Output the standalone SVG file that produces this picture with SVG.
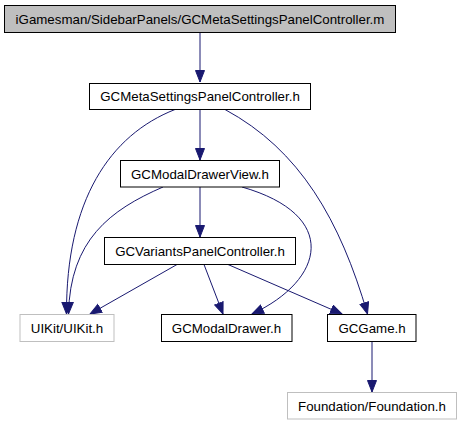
<svg xmlns="http://www.w3.org/2000/svg" width="461" height="427" viewBox="0 0 461 427">
<style>
.n rect{fill:#fff;stroke:#000;stroke-width:1}
.n.root rect{fill:#bfbfbf}
.n.ext rect{stroke:#bfbfbf}
.n text{font-family:"Liberation Sans",Arial,sans-serif;font-size:13.3px;text-anchor:middle;fill:#000}
.e path{fill:none;stroke:#191970;stroke-width:1}
</style>
<defs>
<marker id="ah" markerUnits="userSpaceOnUse" markerWidth="14" markerHeight="11" refX="12" refY="5" orient="auto">
<path d="M0.5,0.5 L12,5 L0.5,9.5 Z" fill="#191970" stroke="#191970" stroke-width="1"/>
</marker>
</defs>
<g id="edges" class="e">
<path d="M200,32 L200,82" marker-end="url(#ah)"/>
<path d="M200,109.5 L200,160" marker-end="url(#ah)"/>
<path d="M200,187 L200,237" marker-end="url(#ah)"/>
<path d="M175,109.5 C110,135 66,200 66.5,314" marker-end="url(#ah)"/>
<path d="M163,187 C110,210 70,240 68.5,314" marker-end="url(#ah)"/>
<path d="M225,109.5 C300,150 340,220 367.5,314" marker-end="url(#ah)"/>
<path d="M242,187 C340,215 325,280 252,314" marker-end="url(#ah)"/>
<path d="M177,264.5 L90,314" marker-end="url(#ah)"/>
<path d="M204,264.5 L223,314" marker-end="url(#ah)"/>
<path d="M228,264.5 L342,314" marker-end="url(#ah)"/>
<path d="M372,341.5 L372,392" marker-end="url(#ah)"/>
</g>
<g id="root" class="n root"><rect x="4.5" y="5.5" width="391" height="27"/><text x="200" y="23.5">iGamesman/SidebarPanels/GCMetaSettingsPanelController.m</text></g>
<g id="meta" class="n"><rect x="89.5" y="83.5" width="221" height="26"/><text x="200" y="101">GCMetaSettingsPanelController.h</text></g>
<g id="modaldrawerview" class="n"><rect x="120.5" y="160.5" width="159" height="26.5"/><text x="200" y="178.5">GCModalDrawerView.h</text></g>
<g id="variants" class="n"><rect x="104.5" y="237.5" width="191" height="27"/><text x="200" y="255.5">GCVariantsPanelController.h</text></g>
<g id="uikit" class="n ext"><rect x="20" y="314.5" width="94" height="27"/><text x="67" y="332.5">UIKit/UIKit.h</text></g>
<g id="modaldrawer" class="n"><rect x="161.5" y="314.5" width="130.5" height="27"/><text x="226.5" y="332.5">GCModalDrawer.h</text></g>
<g id="gcgame" class="n"><rect x="327.5" y="314.5" width="88.5" height="27"/><text x="372" y="332.5">GCGame.h</text></g>
<g id="foundation" class="n ext"><rect x="287.5" y="392.5" width="169" height="26.5"/><text x="372" y="410.5">Foundation/Foundation.h</text></g>
</svg>
